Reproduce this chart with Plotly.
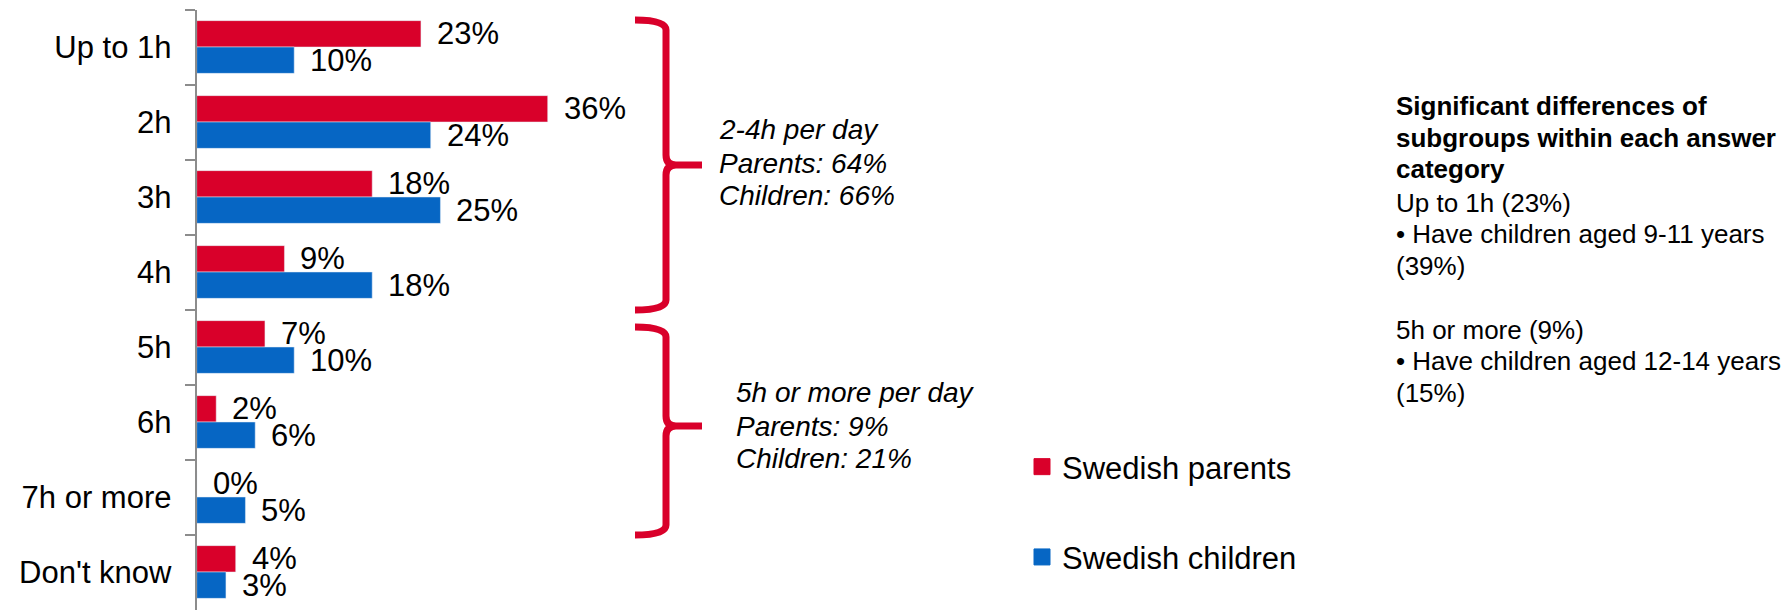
import plotly.graph_objects as go

W, H = 1791, 611

categories = ["Up to 1h", "2h", "3h", "4h", "5h", "6h", "7h or more", "Don't know"]
parents = [23, 36, 18, 9, 7, 2, 0, 4]
children = [10, 24, 25, 18, 10, 6, 5, 3]
series_names = ["Swedish parents", "Swedish children"]

group_notes = [
    ["2-4h per day", "Parents: 64%", "Children: 66%"],
    ["5h or more per day", "Parents: 9%", "Children: 21%"],
]
note_title = ["Significant differences of", "subgroups within each answer", "category"]
note_lines = ["Up to 1h (23%)", "• Have children aged 9-11 years", "(39%)",
              "5h or more (9%)", "• Have children aged 12-14 years", "(15%)"]

RED = "#D9002A"
BLUE = "#0666C4"
AXIS = "#8c8c8c"
ARIAL = "Liberation Sans, Arial, sans-serif"

X0 = 196.7       # left edge of the plot area (px)
PX_PER_PCT = 9.75


# pixel -> paper (margins are zero, so paper == whole canvas)
def px(x):
    return x / W


def py(y):
    return 1 - y / H


fig = go.Figure()
fig.add_trace(go.Bar(y=categories, x=parents, orientation="h", name=series_names[0],
                     marker_color=RED, showlegend=False))
fig.add_trace(go.Bar(y=categories, x=children, orientation="h", name=series_names[1],
                     marker_color=BLUE, showlegend=False))

# legend entries with bigger square swatches than the bar legend icons
for name, col in zip(series_names, (RED, BLUE)):
    fig.add_trace(go.Scatter(x=[None], y=[None], mode="markers", name=name, legendgroup=name,
                             marker=dict(symbol="square", size=16, color=col,
                                         line=dict(color=col, width=1))))

# value labels next to each bar (red bar sits above, blue below)
for vals, shift in ((parents, 13.2), (children, -13.2)):
    for c, v in zip(categories, vals):
        fig.add_annotation(x=v, y=c, text=f"{v}%", showarrow=False, xanchor="left",
                           xshift=14, yshift=shift,
                           font=dict(family=ARIAL, size=31, color="black"))


def brace(top, mid, bot, x0=635, xv=666, xt=702, r=10):
    return (f"M{px(x0)},{py(top)} Q{px(xv)},{py(top)} {px(xv)},{py(top + r)} "
            f"L{px(xv)},{py(mid - r)} Q{px(xv)},{py(mid)} {px(xv + r)},{py(mid)} "
            f"L{px(xt)},{py(mid)} "
            f"M{px(xv + r)},{py(mid)} Q{px(xv)},{py(mid)} {px(xv)},{py(mid + r)} "
            f"L{px(xv)},{py(bot - r)} Q{px(xv)},{py(bot)} {px(x0)},{py(bot)}")


for top, mid, bot in ((20, 165, 310), (327, 426, 535)):
    fig.add_shape(type="path", path=brace(top, mid, bot), xref="paper", yref="paper",
                  line=dict(color=RED, width=7))

for lines, x0, ys in ((group_notes[0], 717, (130, 163.5, 195.5)),
                      (group_notes[1], 734, (392.5, 426, 458.5))):
    for t, y in zip(lines, ys):
        fig.add_annotation(x=px(x0), y=py(y), xref="paper", yref="paper", text=t,
                           showarrow=False, xanchor="left", yanchor="middle",
                           font=dict(family=ARIAL, size=28, style="italic", color="black"))

for t, y in zip(note_title, (106, 137.5, 169)):
    fig.add_annotation(x=px(1394), y=py(y), xref="paper", yref="paper", text=f"<b>{t}</b>",
                       showarrow=False, xanchor="left", yanchor="middle",
                       font=dict(family=ARIAL, size=26, color="black"))
for t, y in zip(note_lines, (202.5, 234, 266, 330, 361, 393)):
    fig.add_annotation(x=px(1394), y=py(y), xref="paper", yref="paper", text=t,
                       showarrow=False, xanchor="left", yanchor="middle",
                       font=dict(family=ARIAL, size=26, color="black"))

fig.update_layout(
    width=W, height=H,
    margin=dict(l=0, r=0, t=0, b=0, autoexpand=False),
    plot_bgcolor="white", paper_bgcolor="white",
    barmode="group", bargap=0.297, bargroupgap=0,
    xaxis=dict(domain=[px(X0), px(X0 + 40 * PX_PER_PCT)], range=[0, 40], visible=False),
    yaxis=dict(domain=[py(609.5), py(9.5)], autorange="reversed", tickson="boundaries",
               ticks="outside", ticklen=10, tickcolor=AXIS, tickwidth=2,
               showline=True, linecolor=AXIS, linewidth=2, showgrid=False,
               ticklabelstandoff=17,
               tickfont=dict(family=ARIAL, size=31, color="black")),
    legend=dict(x=px(1022), y=py(440), xanchor="left", yanchor="top",
                traceorder="grouped", tracegroupgap=47, itemsizing="trace",
                bgcolor="rgba(0,0,0,0)",
                font=dict(family=ARIAL, size=31, color="black")),
    showlegend=True,
)

# the page's default body margin would shift the chart by 8px
fig.write_html("out.html", config={"displayModeBar": False},
               post_script="document.body.style.margin='0';")
